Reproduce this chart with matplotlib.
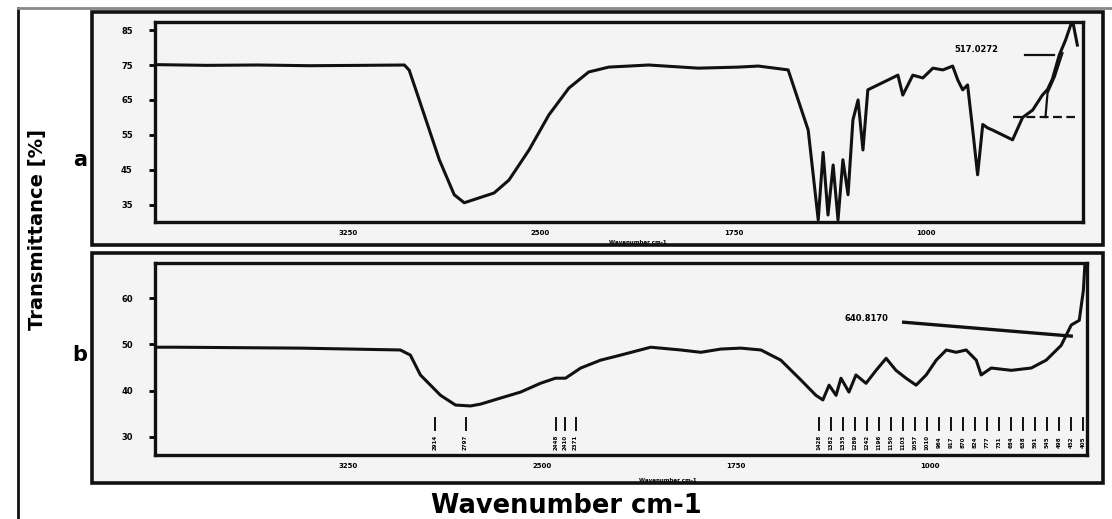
import matplotlib
matplotlib.use("Agg")
import matplotlib.pyplot as plt
from matplotlib.patches import Rectangle
from matplotlib.lines import Line2D

# spectrum a (wavenumber cm-1, transmittance %)
wn_a = [3990, 3800, 3600, 3400, 3200, 3030, 3011, 2972, 2894, 2836, 2797, 2739, 2681,
        2623, 2545, 2468, 2390, 2313, 2235, 2080, 1886, 1731, 1653, 1537, 1498, 1459,
        1420, 1401, 1382, 1362, 1343, 1324, 1304, 1285, 1265, 1246, 1227, 1188, 1149,
        1110, 1091, 1052, 1013, 974, 935, 897, 877, 858, 839, 819, 800, 780, 761, 742,
        703, 664, 625, 586, 548, 528, 509, 482, 458, 431, 412]
t_a = [75.1, 74.9, 75.0, 74.8, 74.9, 75.0, 73.5, 65.0, 47.9, 37.9, 35.6, 37.0, 38.4,
       42.1, 50.7, 60.7, 68.4, 73.0, 74.4, 75.0, 74.1, 74.4, 74.7, 73.6, 65.0, 56.4,
       30.7, 50.0, 32.1, 46.4, 30.7, 47.9, 37.9, 59.3, 65.0, 50.7, 67.9, 69.3, 70.7,
       72.1, 66.4, 72.1, 71.3, 74.1, 73.6, 74.7, 70.7, 67.9, 69.3, 56.4, 43.6, 58.0,
       57.0, 56.4, 55.0, 53.6, 60.0, 62.1, 66.4, 68.0, 71.0, 77.9, 82.1, 87.9, 80.7]

# spectrum b
wn_b = [3990, 3922, 3437, 3050, 3011, 2972, 2894, 2836, 2778, 2739, 2662, 2584, 2507,
        2449, 2410, 2351, 2274, 2196, 2080, 1964, 1886, 1808, 1731, 1653, 1576, 1498,
        1440, 1413, 1389, 1362, 1343, 1312, 1285, 1246, 1207, 1168, 1130, 1091, 1052,
        1013, 974, 935, 897, 858, 819, 800, 761, 683, 606, 548, 490, 451, 420, 404, 398]
t_b = [49.4, 49.4, 49.2, 48.8, 47.7, 43.4, 39.0, 36.9, 36.7, 37.1, 38.4, 39.7, 41.6,
       42.7, 42.7, 44.9, 46.6, 47.7, 49.4, 48.8, 48.3, 49.0, 49.2, 48.8, 46.6, 42.3,
       39.0, 38.0, 41.2, 39.0, 42.7, 39.7, 43.4, 41.6, 44.4, 47.0, 44.4, 42.7, 41.2,
       43.4, 46.6, 48.8, 48.3, 48.8, 46.6, 43.4, 44.9, 44.4, 44.9, 46.6, 49.8, 54.2,
       55.2, 61.7, 67.5]

# peak labels printed under spectrum b
peaks_b = [2914, 2797, 2448, 2410, 2371,
           1428, 1382, 1335, 1289, 1242, 1196, 1150, 1103, 1057, 1010, 964, 917,
           870, 824, 777, 731, 684, 638, 591, 545, 498, 452, 405]

x_ticks = [3250, 2500, 1750, 1000]
y_ticks_a = [35, 45, 55, 65, 75, 85]
y_ticks_b = [30, 40, 50, 60]

ink = "#111111"

fig = plt.figure(figsize=(11.12, 5.19), dpi=100)
fig.patch.set_facecolor("white")


def fx(px):
    return px / 1112.0


def fy(py):
    return 1 - py / 519.0


# outer frame and panel boxes
fig.add_artist(Line2D([fx(18), fx(18)], [fy(8), 0], color=ink, lw=2, zorder=-2))
fig.add_artist(Line2D([fx(18), 1], [fy(8), fy(8)], color="#888888", lw=2, zorder=-2))
for top, bot in [(12, 245), (253, 483)]:
    fig.add_artist(Rectangle((fx(92), fy(bot)), fx(1103) - fx(92), fy(top) - fy(bot),
                             transform=fig.transFigure, facecolor="#f4f4f4",
                             edgecolor=ink, lw=2.6, zorder=-1))

ax1 = fig.add_axes([fx(155), fy(222), fx(1083) - fx(155), fy(22) - fy(222)])
ax2 = fig.add_axes([fx(155), fy(455), fx(1087) - fx(155), fy(263) - fy(455)])

for ax in (ax1, ax2):
    ax.set_facecolor("#f4f4f4")
    ax.set_xlim(4000, 390)
    for s in ax.spines.values():
        s.set_linewidth(2.4)
        s.set_color(ink)
    ax.set_xticks(x_ticks)
    ax.set_xticklabels([str(v) for v in x_ticks], fontsize=5, fontweight="bold")
    ax.tick_params(axis="x", length=0, pad=6)
    ax.tick_params(axis="y", length=4, width=2, labelsize=6, pad=12)

ax1.plot(wn_a, t_a, color=ink, lw=2.2)
ax1.set_ylim(30.1, 87.3)
ax1.set_yticks(y_ticks_a)
ax1.set_yticklabels([str(v) for v in y_ticks_a], fontweight="bold")
ax1.plot([470, 500, 528, 536], [78.4, 71.6, 67.0, 60.1], color=ink, lw=1.6)
ax1.plot([664, 420], [60.1, 60.1], color=ink, lw=1.6, ls=(0, (4, 2)))
ax1.text(889, 79.3, "517.0272", fontsize=6, fontweight="bold", va="center")
ax1.plot([617, 501], [77.9, 77.9], color=ink, lw=1.6)
ax1.text(0.52, -0.09, "Wavenumber cm-1", transform=ax1.transAxes, fontsize=4,
         fontweight="bold", ha="center", va="top")

ax2.plot(wn_b, t_b, color=ink, lw=2.2)
ax2.set_ylim(26.1, 67.6)
ax2.set_yticks(y_ticks_b)
ax2.set_yticklabels([str(v) for v in y_ticks_b], fontweight="bold")
for p in peaks_b:
    ax2.plot([p, p], [31.6, 34.2], color=ink, lw=1.4)
    ax2.text(p, 28.8, str(p), rotation=90, fontsize=4, fontweight="bold",
             ha="center", va="center")
ax2.text(1331, 55.7, "640.8170", fontsize=6, fontweight="bold", va="center")
ax2.plot([1100, 451], [54.8, 51.8], color=ink, lw=2.4)
ax2.text(0.55, -0.12, "Wavenumber cm-1", transform=ax2.transAxes, fontsize=4,
         fontweight="bold", ha="center", va="top")

fig.text(fx(80), fy(160), "a", fontsize=15, fontweight="bold", ha="center", va="center")
fig.text(fx(80), fy(355), "b", fontsize=15, fontweight="bold", ha="center", va="center")
fig.text(fx(38), fy(230), "Transmittance [%]", rotation=90, fontsize=14,
         fontweight="bold", ha="center", va="center")
fig.text(fx(566), fy(506), "Wavenumber cm-1", fontsize=18.5, fontweight="heavy",
         ha="center", va="center")

fig.savefig("out.png", dpi=100)
